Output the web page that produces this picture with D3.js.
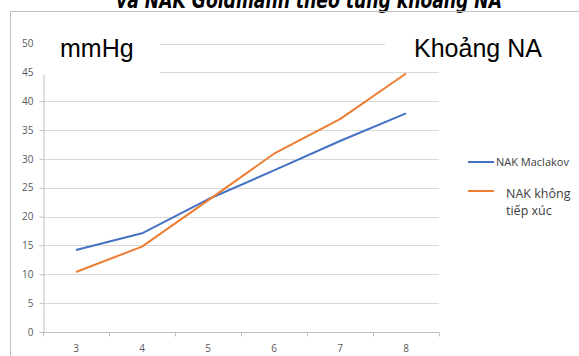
<!DOCTYPE html>
<html>
<head>
<meta charset="utf-8">
<script src="https://cdn.jsdelivr.net/npm/d3@7"></script>
<style>
  html, body { margin: 0; padding: 0; background: #fff; }
  svg { display: block; }
</style>
</head>
<body>
<div id="chart"></div>
<script>
const categories = [3, 4, 5, 6, 7, 8]
const maclakov = [14.2, 17.1, 23, 28, 33.1, 37.9]
const khongTiepXuc = [10.4, 14.8, 22.8, 30.9, 36.9, 44.8]
const yTicks = [0, 5, 10, 15, 20, 25, 30, 35, 40, 45, 50]
const titleText = "và NAK Goldmann theo từng khoảng NA"
const unitLabel = "mmHg"
const xLabel = "Khoảng NA"
const series = [
	{ name: ["NAK Maclakov"], values: maclakov, color: "#4472C4" },
	{ name: ["NAK không", "tiếp xúc"], values: khongTiepXuc, color: "#ED7D31" },
]

const width = 579
const height = 356
const plot = { left: 43, right: 439, top: 43.5, bottom: 332 }

const svg = d3
	.select("#chart")
	.append("svg")
	.attr("width", width)
	.attr("height", height)

const x = d3
	.scaleBand()
	.domain(categories)
	.range([plot.left, plot.right])
	.padding(0)

const y = d3.scaleLinear().domain([0, 50]).range([plot.bottom, plot.top])

// title (cut off at the top, as in the source)
svg.append("text")
	.attr("x", 309)
	.attr("y", 7.5)
	.attr("text-anchor", "middle")
	.style("font-family", "DejaVu Sans, sans-serif")
	.style("font-weight", "bold")
	.style("font-style", "italic")
	.style("font-size", "23px")
	.attr("fill", "#000")
	.attr("textLength", 386)
	.attr("lengthAdjust", "spacingAndGlyphs")
	.text(titleText)

// frame
svg.append("line")
	.attr("x1", 10).attr("x2", width)
	.attr("y1", 11.5).attr("y2", 11.5)
	.attr("stroke", "#bfbfbf")
svg.append("line")
	.attr("x1", 10.5).attr("x2", 10.5)
	.attr("y1", 11.5).attr("y2", height)
	.attr("stroke", "#bfbfbf")

// gridlines
svg.append("g")
	.attr("class", "grid")
	.selectAll("line")
	.data(yTicks.filter((d) => d > 0))
	.join("line")
	.attr("x1", plot.left)
	.attr("x2", plot.right)
	.attr("y1", (d) => Math.round(y(d)) + 0.5)
	.attr("y2", (d) => Math.round(y(d)) + 0.5)
	.attr("stroke", "#d9d9d9")
	.attr("stroke-width", 1)

// y axis
const yAxis = svg
	.append("g")
	.attr("transform", `translate(${plot.left + 0.5},0)`)
	.call(d3.axisLeft(y).tickValues(yTicks).tickSize(4).tickPadding(6))
yAxis.select(".domain").attr("stroke", "#bfbfbf")
yAxis.selectAll(".tick line").attr("stroke", "#bfbfbf")
yAxis.selectAll("text")
	.style("font-family", "Open Sans, sans-serif")
	.style("font-size", "10px")
	.attr("fill", "#595959")

// x axis
const xAxis = svg
	.append("g")
	.attr("transform", `translate(0,${Math.round(plot.bottom) + 0.5})`)
xAxis.append("line")
	.attr("x1", plot.left)
	.attr("x2", plot.right)
	.attr("stroke", "#bfbfbf")
xAxis.selectAll(".xtick")
	.data(categories.concat(["end"]))
	.join("line")
	.attr("class", "xtick")
	.attr("x1", (d) => Math.round(d === "end" ? plot.right : x(d)) + 0.5)
	.attr("x2", (d) => Math.round(d === "end" ? plot.right : x(d)) + 0.5)
	.attr("y1", 0)
	.attr("y2", 4)
	.attr("stroke", "#bfbfbf")
xAxis.selectAll(".xlabel")
	.data(categories)
	.join("text")
	.attr("class", "xlabel")
	.attr("x", (d) => x(d) + x.bandwidth() / 2)
	.attr("y", 19)
	.attr("text-anchor", "middle")
	.style("font-family", "Open Sans, sans-serif")
	.style("font-size", "10px")
	.attr("fill", "#595959")
	.text((d) => d)

// white text boxes over the top of the plot
svg.append("rect")
	.attr("x", 38).attr("y", 28)
	.attr("width", 122).attr("height", 47)
	.attr("fill", "#fff")
svg.append("rect")
	.attr("x", 385).attr("y", 28)
	.attr("width", 194).attr("height", 43)
	.attr("fill", "#fff")

svg.append("text")
	.attr("x", 60)
	.attr("y", 57)
	.style("font-family", "Liberation Sans, Arial, sans-serif")
	.style("font-size", "25px")
	.attr("fill", "#000")
	.text(unitLabel)
svg.append("text")
	.attr("x", 414)
	.attr("y", 57)
	.style("font-family", "Liberation Sans, Arial, sans-serif")
	.style("font-size", "25px")
	.attr("fill", "#000")
	.text(xLabel)

// series lines
const line = d3
	.line()
	.x((d, i) => x(categories[i]) + x.bandwidth() / 2)
	.y((d) => y(d))

series.forEach((s) => {
	svg.append("path")
		.datum(s.values)
		.attr("fill", "none")
		.attr("stroke", s.color)
		.attr("stroke-width", 2)
		.attr("stroke-linejoin", "round")
		.attr("d", line)
})

// legend
const legendRows = [
	{ lineY: 162, textX: 496, textY: 166, size: "11px" },
	{ lineY: 191, textX: 506, textY: 198, size: "12.5px" },
]
series.forEach((s, i) => {
	const r = legendRows[i]
	svg.append("line")
		.attr("x1", 468).attr("x2", 494)
		.attr("y1", r.lineY).attr("y2", r.lineY)
		.attr("stroke", s.color)
		.attr("stroke-width", 2)
	const t = svg.append("text")
		.attr("x", r.textX)
		.attr("y", r.textY)
		.style("font-family", "Open Sans, sans-serif")
		.style("font-size", r.size)
		.attr("fill", "#404040")
	s.name.forEach((part, j) => {
		t.append("tspan")
			.attr("x", r.textX)
			.attr("dy", j === 0 ? 0 : 17)
			.text(part)
	})
})
</script>
</body>
</html>
